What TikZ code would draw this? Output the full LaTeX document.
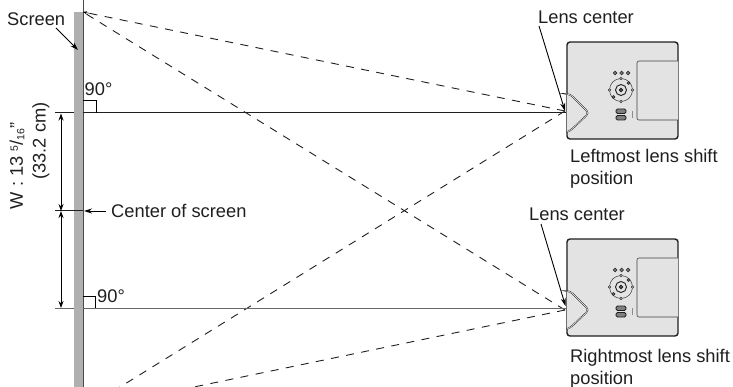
\documentclass[tikz,border=0pt]{standalone}
\usepackage{fontspec}
\setmainfont{Liberation Sans}
\usetikzlibrary{arrows.meta}
\definecolor{screengray}{gray}{0.69}
\definecolor{bodygray}{gray}{0.89}
\definecolor{inkc}{gray}{0.12}
\tikzset{
  x=1pt,y=-1pt,
  lbl/.style={inner sep=0pt,font=\fontsize{18.3}{22}\selectfont,text=inkc,align=left},
  sightline/.style={line width=1pt,draw=inkc},
  dashline/.style={line width=0.9pt,draw=inkc,dash pattern=on 8pt off 7.4pt},
  dimarrow/.style={line width=0.9pt,draw=black,{Stealth[length=7pt,width=5pt]}-{Stealth[length=7pt,width=5pt]}},
  pointer/.style={line width=0.9pt,draw=black,-{Stealth[length=8pt,width=5pt]}},
  knob/.style={draw=inkc,fill=black!55,line width=0.5pt},
  pics/projector/.style={code={
    \draw[line width=1.4pt,fill=bodygray,rounded corners=3pt,draw=inkc] (0,0) rectangle (111,97);
    \draw[line width=0.6pt,draw=black!75,fill=bodygray,rounded corners=2pt] (111,19) -- (70,19) -- (70,78) -- (111,78);
    \draw[line width=1.5pt,draw=inkc,fill=bodygray,rounded corners=3.5pt] (0,52) -- (3,52) -- (22,71) -- (3,89) -- (0,90);
    \draw[line width=0.5pt,draw=white,rounded corners=3.5pt] (0,52) -- (3,52) -- (22,71) -- (3,89) -- (0,90);
    \foreach \kx in {48,54.5,61}{\draw[knob] (\kx,31) circle (1.9);}
    \draw[line width=0.5pt,draw=black!80] (54,48) circle (11.5);
    \draw[line width=0.9pt,draw=inkc,fill=bodygray] (54,48) circle (5.5);
    \draw[line width=0.9pt,draw=inkc,fill=black!60] (54,48) circle (1.8);
    \foreach \kx/\ky in {54/36.5,65.5/48,54/59.5,42.5/48}{\draw[line width=0.5pt,draw=inkc,fill=white] (\kx,\ky) circle (1.3);}
    \draw[knob] (46.5,55) circle (1.5);
    \draw[knob] (61.5,41) circle (1.5);
    \draw[line width=0.9pt,draw=inkc,fill=black!50,rounded corners=1.5pt] (49,67) rectangle (59,71.5);
    \draw[line width=0.9pt,draw=inkc,fill=black!50,rounded corners=1.5pt] (49,73.5) rectangle (59,78);
    \draw[line width=0.5pt,draw=black!45] (65,69) -- (65,76);
  }}
}
\begin{document}
\begin{tikzpicture}
\useasboundingbox (0,0) rectangle (733,387);
\begin{scope}
\clip (0,0) rectangle (733,387);
\coordinate (apexT) at (83,12);
\coordinate (apexB) at (83,410);
\coordinate (lensT) at (565,111);
\coordinate (lensB) at (565,310);
\coordinate (topRight) at (566,113);
\coordinate (botRight) at (566,308.5);
\fill[screengray] (74,12) rectangle (83,387);
\draw[line width=0.9pt,draw=inkc!80!white] (83,0) -- (83,387);
\pic at (567,42) {projector};
\pic at (567,239) {projector};
\draw[dashline] (lensT) -- (apexT);
\draw[dashline] (lensB) -- (apexT);
\draw[dashline] (lensT) -- (apexB);
\draw[dashline] (lensB) -- (apexB);
\coordinate (tickT) at (89,13.2);
\draw[-{Stealth[length=4pt,width=3pt]},line width=0.5pt] (tickT) -- (apexT);
\end{scope}
\coordinate (tL) at (55,113);
\coordinate (tS) at (74,113);
\coordinate (tA) at (83,113);
\coordinate (bL) at (55,308.5);
\coordinate (bS) at (74,308.5);
\coordinate (bA) at (83,308.5);
\coordinate (cL) at (55,211);
\coordinate (cA) at (83,211);
\coordinate (dT) at (61,113.5);
\coordinate (dC) at (61,211);
\coordinate (dB) at (61,308);
\draw[sightline] (tL) -- (tS) (tA) -- (topRight);
\draw[sightline,draw=black!60] (bL) -- (bS) (bA) -- (botRight);
\draw[sightline] (cL) -- (cA);
\draw[dimarrow] (dT) -- (dC);
\draw[dimarrow] (dC) -- (dB);
\draw[line width=0.8pt] (83,100) -| (96,113);
\draw[line width=0.8pt] (83,296) -| (95.5,308);
\node[lbl,anchor=west] (screenL) at (7,19) {Screen};
\node[lbl,anchor=west] (deg1) at (84.5,89) {90°};
\node[lbl,anchor=west] (deg2) at (97,296) {90°};
\node[lbl,anchor=west] (center) at (111,211) {Center of screen};
\node[lbl,anchor=west] (lens1) at (538,17) {Lens center};
\node[lbl,anchor=west] (lens2) at (529,214) {Lens center};
\node[lbl,anchor=north west] (left) at (570,149) {Leftmost lens shift\\position};
\node[lbl,anchor=north west] (right) at (570,349) {Rightmost lens shift\\position};
\node[lbl,rotate=90,anchor=center] (width1) at (17,166) {W : 13 \raisebox{5pt}{\fontsize{10.5}{12}\selectfont 5}/\raisebox{-1.5pt}{\fontsize{10.5}{12}\selectfont 16}"};
\node[lbl,rotate=90,anchor=center] (width2) at (41,141) {(33.2 cm)};
\coordinate (scrS) at (56,28);
\coordinate (scrT) at (78,50);
\coordinate (cS) at (106,211);
\coordinate (cT) at (84,211);
\coordinate (lens1S) at (539,26);
\coordinate (lens1T) at (565,111);
\coordinate (lens2S) at (541,224);
\coordinate (lens2T) at (565.5,306);
\draw[pointer] (scrS) -- (scrT);
\draw[pointer] (cS) -- (cT);
\draw[pointer] (lens1S) -- (lens1T);
\draw[pointer] (lens2S) -- (lens2T);
\end{tikzpicture}
\end{document}
